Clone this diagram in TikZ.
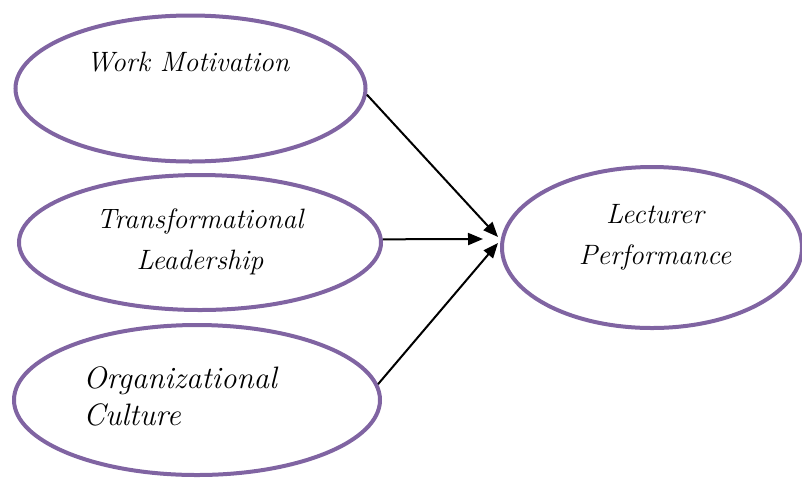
\documentclass[tikz,border=0pt]{standalone}
\usepackage{tikz}
\usetikzlibrary{shapes.geometric, arrows.meta}
\definecolor{varpurple}{RGB}{128,100,162}
\tikzset{var node/.style={ellipse,draw=varpurple,line width=2pt,inner sep=0pt},
         var text/.style={font=\fontsize{14}{20.5}\selectfont\itshape,inner sep=0pt,align=center},}
\newcommand{\ed}[2]{\path[draw, line width=1pt, -{Triangle[length=7.5pt,width=6pt]}] (#1) -- (#2);}

\begin{document}
\begin{tikzpicture}[x=0.5pt,y=-0.5pt]
        \useasboundingbox (0,0) rectangle (802,478);

        \node[var node, minimum width=175pt, minimum height=73pt] (wm) at (190.5,88.5) {};
        \node[var node, minimum width=181pt, minimum height=67.5pt] (tl) at (200,242.5) {};
        \node[var node, minimum width=183pt, minimum height=75pt] (oc) at (197,400) {};
        \node[var node, minimum width=150pt, minimum height=80.5pt] (lp) at (652,247.5) {};

        \node[var text] (wmt) at (188,62) {Work Motivation};
        \node[var text] (tlt) at (200,242) {Transformational\\Leadership};
        \node[var text, align=left, anchor=west,
              font=\fontsize{15.5}{18.5}\selectfont\itshape] (oct) at (83,396) {Organizational\\Culture};
        \node[var text] (lpt) at (655,237) {Lecturer\\Performance};

        \coordinate (in1) at (498,237);
        \coordinate (in2) at (483,239);
        \coordinate (in3) at (498,243);

        \ed{wm.-2}{in1}
        \ed{tl.1}{in2}
        \ed{oc.5}{in3}
\end{tikzpicture}
\end{document}
